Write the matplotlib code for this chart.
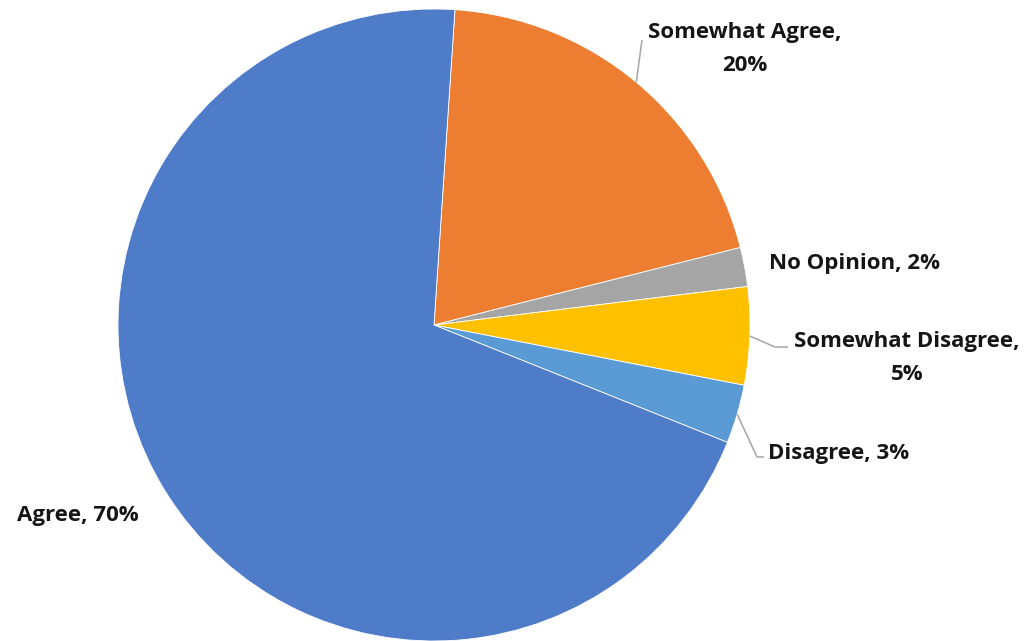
import numpy as np
import matplotlib.pyplot as plt

labels = ["Somewhat Agree", "No Opinion", "Somewhat Disagree", "Disagree", "Agree"]
shares = [20, 2, 5, 3, 70]
colors = ["#ED7D31", "#A5A5A5", "#FFC000", "#5B9BD5", "#4F7CC8"]

W, H = 1025, 641
cx, cy, r = 434, H - 325, 316
start = 90 - 3.8

fig = plt.figure(figsize=(W / 100, H / 100), dpi=100)
ax = fig.add_axes([0, 0, 1, 1])

wedges, _ = ax.pie(shares, colors=colors, startangle=start, counterclock=False,
                   center=(cx, cy), radius=r, frame=True,
                   wedgeprops=dict(edgecolor="white", linewidth=0.6))
ax.set_xlim(0, W)
ax.set_ylim(0, H)
ax.set_aspect("equal")
ax.axis("off")

# label anchor (text x, y, ha) and elbow points for leader lines, in pixels from top-left
layout = {
    "Somewhat Agree": dict(xy=(745, 49), ha="center", elbow=[(642, 40)], two=True),
    "No Opinion": dict(xy=(769, 264), ha="left", elbow=None, two=False),
    "Somewhat Disagree": dict(xy=(907, 358), ha="center", elbow=[(775, 347), (788, 347)], two=True),
    "Disagree": dict(xy=(768, 453), ha="left", elbow=[(757, 457), (764, 457)], two=False),
    "Agree": dict(xy=(17, 515), ha="left", elbow=None, two=False),
}

txt = dict(fontsize=16, fontweight="bold", color="#151515", family=["Open Sans", "DejaVu Sans"])

for w, lab, val in zip(wedges, labels, shares):
    lo = layout[lab]
    if lo["two"]:
        s = f"{lab},\n{val}%"
    else:
        s = f"{lab}, {val}%"
    x, y = lo["xy"]
    ax.text(x, H - y, s, ha=lo["ha"], va="center", linespacing=1.75, **txt)
    if lo["elbow"]:
        mid = np.deg2rad((w.theta1 + w.theta2) / 2)
        pts = [(cx + r * np.cos(mid), cy + r * np.sin(mid))]
        pts += [(px, H - py) for px, py in lo["elbow"]]
        xs, ys = zip(*pts)
        ax.plot(xs, ys, color="#A6A6A6", lw=1.1, solid_capstyle="butt")

fig.savefig("out.png", dpi=100, facecolor="white")
